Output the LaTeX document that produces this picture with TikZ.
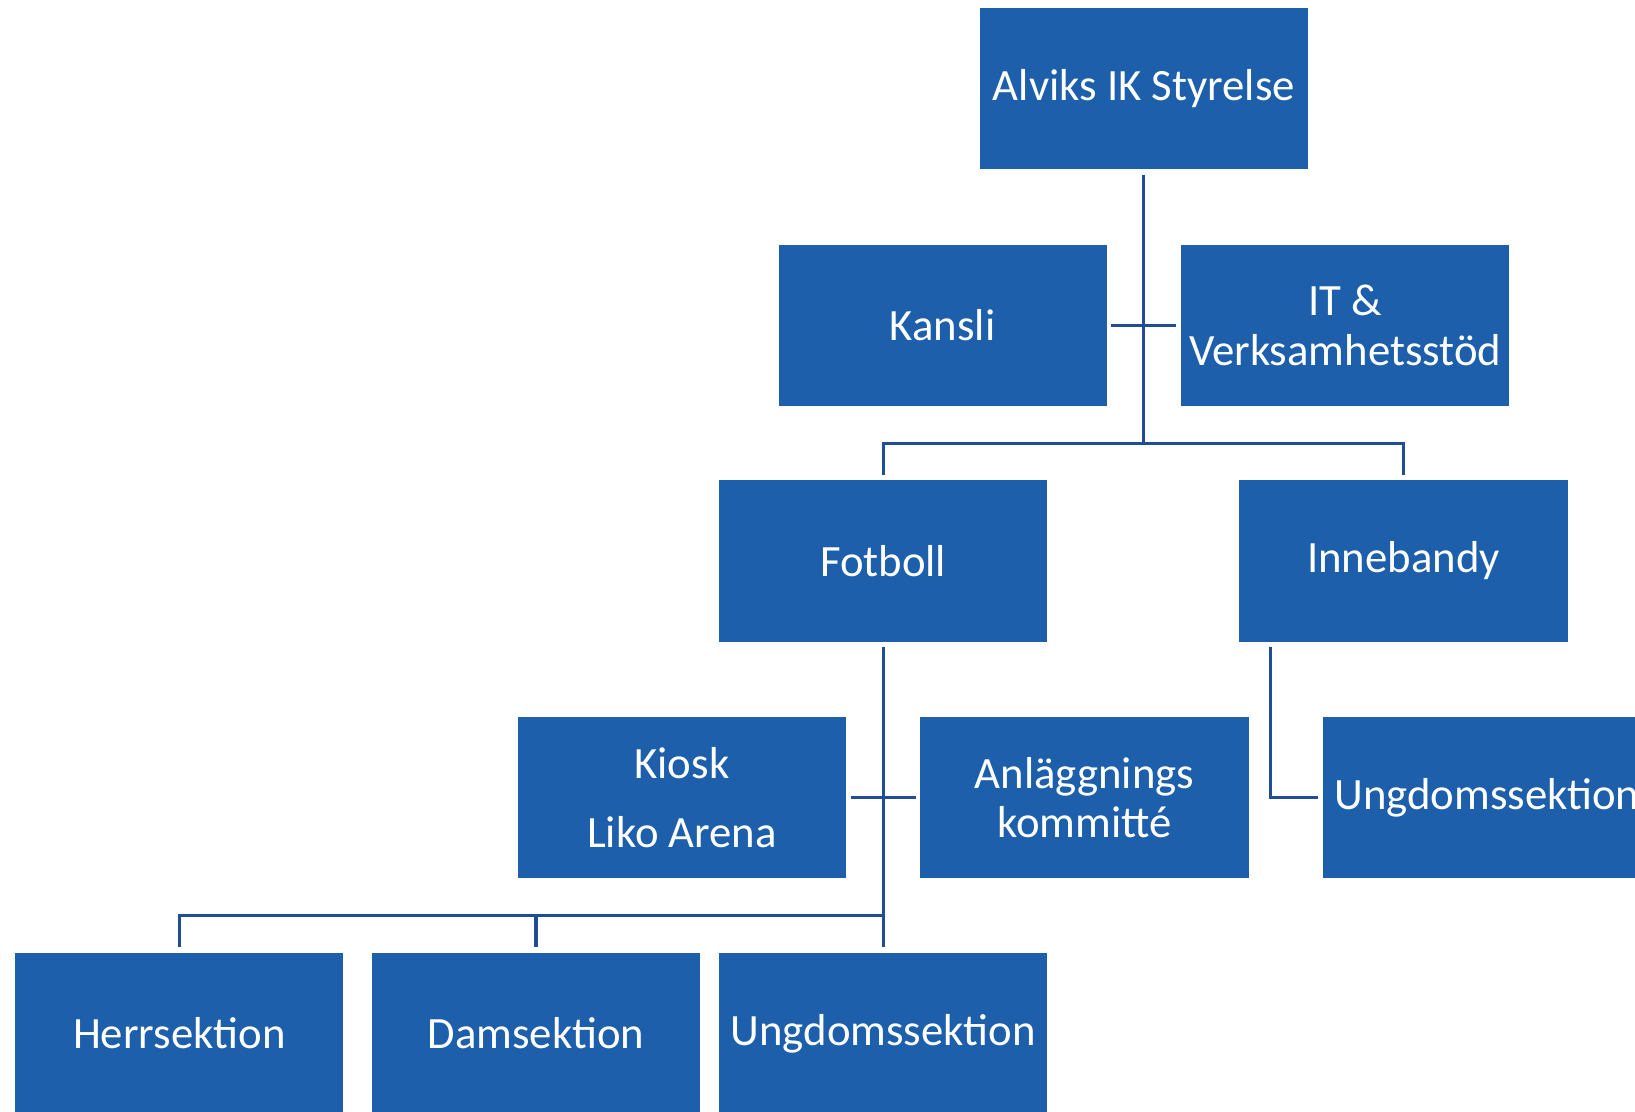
\documentclass[tikz,border=0pt]{standalone}
\usepackage{fontspec}
\setmainfont{Carlito}
\definecolor{boxblue}{HTML}{1D5FAB}
\definecolor{lineblue}{HTML}{1F4E96}
\tikzset{
    unit/.style={draw=white, line width=0.4pt, fill=boxblue, text=white,
        minimum width=3.16cm, minimum height=1.56cm, inner sep=0pt,
        align=center, font=\fontsize{12.2}{13.4}\selectfont},
    link/.style={draw=lineblue, line width=0.85pt}
}
\begin{document}
\begin{tikzpicture}[x=0.01cm,y=-0.01cm]
    \useasboundingbox (0,0) rectangle (1568,1066);
    \clip (0,0) rectangle (1568,1066);

    \node[unit] (styrelse) at (1097,85) {Alviks IK Styrelse};

    \node[unit] (kansli) at (904,312) {Kansli};
    \node[unit] (itstod) at (1290,312) {IT \&\\Verksamhetsstöd};

    \node[unit] (fotboll) at (847,538) {Fotboll};
    \node[unit] (innebandy) at (1346,538) {Innebandy};

    \node[unit] (kiosk) at (654,765) {Kiosk\\[5.3pt]Liko Arena};
    \node[unit] (anlagg) at (1040,765) {Anläggnings\\kommitté};
    \node[unit] (ungdomib) at (1426,765) {Ungdomssektion};

    \node[unit] (herr) at (172,991) {Herrsektion};
    \node[unit] (dam) at (514,991) {Damsektion};
    \node[unit] (ungdomfb) at (847,991) {Ungdomssektion};

    \coordinate (busA) at (1097,425);
    \coordinate (busB) at (847,878);

    % styrelse
    \draw[link] ([yshift=-0.04cm]styrelse.south) -- (busA);
    \draw[link] ([xshift=0.03cm]kansli.east) -- ([xshift=-0.03cm]itstod.west);
    \draw[link] ([yshift=0.04cm]fotboll.north) |- (busA)
        -| ([yshift=0.04cm]innebandy.north);

    % fotboll
    \draw[link] ([yshift=-0.04cm]fotboll.south) -- ([yshift=0.04cm]ungdomfb.north);
    \draw[link] ([xshift=0.03cm]kiosk.east) -- ([xshift=-0.03cm]anlagg.west);
    \draw[link] ([yshift=0.04cm]herr.north) |- (busB);
    \draw[link] ([yshift=0.04cm]dam.north) -- (dam.north |- busB);

    % innebandy
    \draw[link] ([xshift=0.31cm,yshift=-0.04cm]innebandy.south west)
        |- ([xshift=-0.03cm]ungdomib.west);
\end{tikzpicture}
\end{document}
